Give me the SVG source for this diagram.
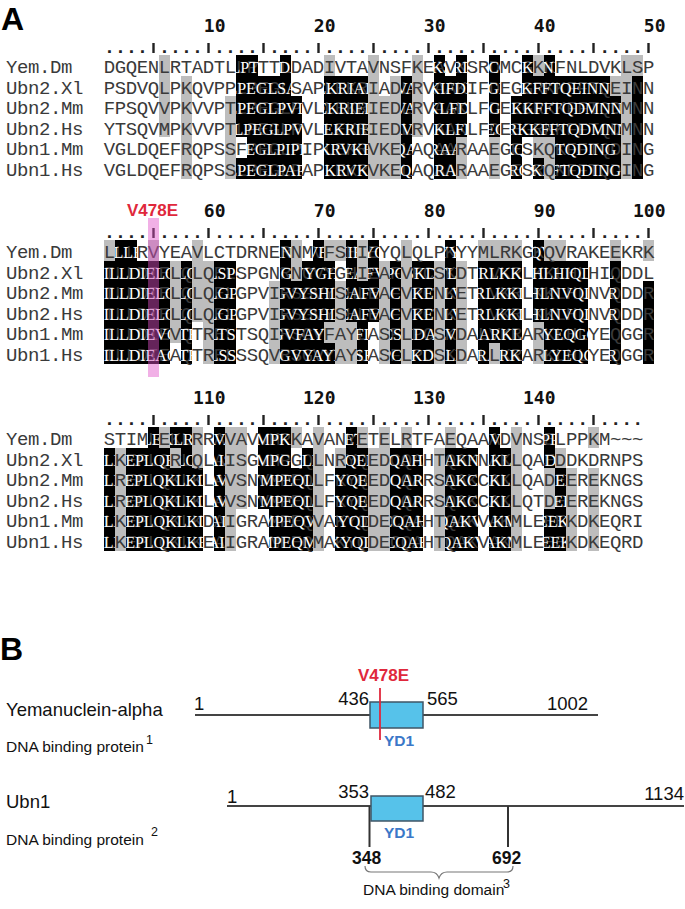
<svg xmlns="http://www.w3.org/2000/svg" xmlns:xlink="http://www.w3.org/1999/xlink" width="685" height="909" viewBox="0 0 685 909">
<style>
.seq{font-family:"Liberation Mono","Courier New",monospace;font-size:19px;letter-spacing:-0.4px}
.dk{fill:#3a3a3a}
.dots{font-family:"Liberation Mono","Courier New",monospace;font-weight:bold;font-size:19px;letter-spacing:-0.4px;fill:#222}
.num{font-family:"DejaVu Sans Mono",monospace;font-weight:bold;font-size:18px;fill:#111;text-anchor:end}
.tick{stroke:#222;stroke-width:2.4;fill:none}
.shade{shape-rendering:crispEdges}
.sans{font-family:"Liberation Sans",Arial,sans-serif}
.lbl{font-family:"Liberation Sans",Arial,sans-serif;font-size:18.5px;fill:#111}
.small{font-family:"Liberation Sans",Arial,sans-serif;font-size:15.5px;fill:#111}
.sup{font-family:"Liberation Sans",Arial,sans-serif;font-size:12.5px;fill:#111}
.prot{stroke:#444;stroke-width:2;fill:none}
.box{fill:#56c2ea;stroke:#3f5566;stroke-width:1.5}
.red{font-family:"Liberation Sans",Arial,sans-serif;font-weight:bold;font-size:17px;fill:#e0283c}
.yd{font-family:"Liberation Sans",Arial,sans-serif;font-weight:bold;font-size:15.5px;fill:#3b78c8}
</style>
<defs>
<path id="k1" transform="translate(0,55)" d="M236 0h22v20.6h-22zM280 0h11v20.6h-11zM434 0h11v20.6h-11zM456 0h11v20.6h-11zM489 0h11v20.6h-11zM522 0h11v20.6h-11zM544 0h11v20.6h-11zM236 20.6h55v20.6h-55zM324 20.6h44v20.6h-44zM401 20.6h11v20.6h-11zM434 20.6h33v20.6h-33zM489 20.6h11v20.6h-11zM522 20.6h88v20.6h-88zM632 20.6h11v20.6h-11zM236 41.2h66v41.2h-66zM324 41.2h44v41.2h-44zM401 41.2h11v41.2h-11zM434 41.2h33v41.2h-33zM489 41.2h11v41.2h-11zM511 41.2h110v41.2h-110zM632 41.2h11v41.2h-11zM247 82.4h55v20.6h-55zM324 82.4h44v20.6h-44zM401 82.4h11v20.6h-11zM434 82.4h22v20.6h-22zM511 82.4h11v20.6h-11zM555 82.4h66v20.6h-66zM632 82.4h11v20.6h-11zM236 103h66v20.6h-66zM324 103h44v20.6h-44zM401 103h11v20.6h-11zM434 103h22v20.6h-22zM511 103h11v20.6h-11zM533 103h11v20.6h-11zM555 103h66v20.6h-66zM632 103h11v20.6h-11z"/>
<path id="k2" transform="translate(0,240)" d="M115 0h22v20.6h-22zM280 0h11v20.6h-11zM313 0h11v20.6h-11zM346 0h11v20.6h-11zM368 0h11v20.6h-11zM445 0h11v20.6h-11zM533 0h11v20.6h-11zM104 20.6h66v20.6h-66zM181 20.6h11v20.6h-11zM214 20.6h22v20.6h-22zM280 20.6h11v20.6h-11zM302 20.6h33v20.6h-33zM346 20.6h11v20.6h-11zM368 20.6h11v20.6h-11zM390 20.6h11v20.6h-11zM412 20.6h22v20.6h-22zM445 20.6h11v20.6h-11zM478 20.6h44v20.6h-44zM533 20.6h55v20.6h-55zM610 20.6h11v20.6h-11zM104 41.2h66v41.2h-66zM181 41.2h11v41.2h-11zM214 41.2h22v41.2h-22zM280 41.2h55v41.2h-55zM346 41.2h33v41.2h-33zM390 41.2h11v41.2h-11zM412 41.2h22v41.2h-22zM445 41.2h11v41.2h-11zM478 41.2h44v41.2h-44zM533 41.2h55v41.2h-55zM610 41.2h11v41.2h-11zM643 41.2h11v41.2h-11zM104 82.4h66v20.6h-66zM181 82.4h11v20.6h-11zM214 82.4h22v20.6h-22zM280 82.4h44v20.6h-44zM357 82.4h11v20.6h-11zM390 82.4h11v20.6h-11zM412 82.4h22v20.6h-22zM445 82.4h11v20.6h-11zM478 82.4h44v20.6h-44zM544 82.4h44v20.6h-44zM610 82.4h11v20.6h-11zM643 82.4h11v20.6h-11zM104 103h66v20.6h-66zM181 103h11v20.6h-11zM214 103h22v20.6h-22zM280 103h55v20.6h-55zM357 103h11v20.6h-11zM390 103h11v20.6h-11zM412 103h22v20.6h-22zM445 103h11v20.6h-11zM478 103h11v20.6h-11zM500 103h22v20.6h-22zM544 103h44v20.6h-44zM610 103h11v20.6h-11zM643 103h11v20.6h-11z"/>
<path id="k3" transform="translate(0,427)" d="M148 0h11v20.6h-11zM170 0h22v20.6h-22zM214 0h11v20.6h-11zM258 0h33v20.6h-33zM346 0h11v20.6h-11zM489 0h11v20.6h-11zM544 0h11v20.6h-11zM104 20.6h11v20.6h-11zM126 20.6h44v20.6h-44zM181 20.6h11v20.6h-11zM214 20.6h11v20.6h-11zM258 20.6h33v20.6h-33zM302 20.6h11v20.6h-11zM346 20.6h22v20.6h-22zM390 20.6h33v20.6h-33zM445 20.6h33v20.6h-33zM489 20.6h22v20.6h-22zM544 20.6h11v20.6h-11zM104 41.2h11v41.2h-11zM126 41.2h77v41.2h-77zM214 41.2h11v41.2h-11zM258 41.2h55v41.2h-55zM335 41.2h33v41.2h-33zM390 41.2h33v41.2h-33zM445 41.2h33v41.2h-33zM489 41.2h22v41.2h-22zM555 41.2h11v41.2h-11zM104 82.4h11v41.2h-11zM126 82.4h77v41.2h-77zM214 82.4h11v41.2h-11zM269 82.4h44v41.2h-44zM335 82.4h33v41.2h-33zM390 82.4h33v41.2h-33zM445 82.4h33v41.2h-33zM489 82.4h22v41.2h-22zM544 82.4h22v41.2h-22z"/>
<clipPath id="kc"><use xlink:href="#k1"/><use xlink:href="#k2"/><use xlink:href="#k3"/></clipPath>
</defs>

<g id="panelA">
<text class="sans" x="1" y="30" font-size="32" font-weight="bold" fill="#000">A</text>

<g id="shading" class="shade">
<path fill="#bdbdbd" transform="translate(0,55)" d="M159 0h11v20.6h-11zM324 0h11v20.6h-11zM368 0h11v20.6h-11zM412 0h11v20.6h-11zM533 0h11v20.6h-11zM621 0h22v20.6h-22zM159 20.6h11v20.6h-11zM181 20.6h11v20.6h-11zM368 20.6h11v20.6h-11zM390 20.6h11v20.6h-11zM412 20.6h11v20.6h-11zM610 20.6h22v20.6h-22zM159 41.2h11v41.2h-11zM181 41.2h11v41.2h-11zM225 41.2h11v41.2h-11zM368 41.2h33v41.2h-33zM412 41.2h11v41.2h-11zM621 41.2h11v41.2h-11zM181 82.4h11v20.6h-11zM225 82.4h11v20.6h-11zM368 82.4h33v20.6h-33zM456 82.4h11v20.6h-11zM489 82.4h11v20.6h-11zM533 82.4h22v20.6h-22zM621 82.4h11v20.6h-11zM181 103h11v20.6h-11zM225 103h11v20.6h-11zM368 103h33v20.6h-33zM456 103h11v20.6h-11zM489 103h11v20.6h-11zM544 103h11v20.6h-11zM621 103h11v20.6h-11z"/>
<path fill="#bdbdbd" transform="translate(0,240)" d="M104 0h11v20.6h-11zM148 0h11v20.6h-11zM192 0h11v20.6h-11zM291 0h11v20.6h-11zM324 0h22v20.6h-22zM357 0h11v20.6h-11zM401 0h11v20.6h-11zM478 0h44v20.6h-44zM544 0h22v20.6h-22zM610 0h11v20.6h-11zM643 0h11v20.6h-11zM170 20.6h11v20.6h-11zM192 20.6h22v20.6h-22zM291 20.6h11v20.6h-11zM357 20.6h11v20.6h-11zM379 20.6h11v20.6h-11zM401 20.6h11v20.6h-11zM434 20.6h11v20.6h-11zM456 20.6h11v20.6h-11zM170 41.2h11v41.2h-11zM192 41.2h22v41.2h-22zM269 41.2h11v41.2h-11zM335 41.2h11v41.2h-11zM379 41.2h11v41.2h-11zM401 41.2h11v41.2h-11zM434 41.2h11v41.2h-11zM456 41.2h11v41.2h-11zM170 82.4h11v20.6h-11zM203 82.4h11v20.6h-11zM269 82.4h11v20.6h-11zM324 82.4h33v20.6h-33zM379 82.4h11v20.6h-11zM401 82.4h11v20.6h-11zM434 82.4h11v20.6h-11zM456 82.4h11v20.6h-11zM533 82.4h11v20.6h-11zM203 103h11v20.6h-11zM269 103h11v20.6h-11zM335 103h22v20.6h-22zM379 103h11v20.6h-11zM401 103h11v20.6h-11zM434 103h11v20.6h-11zM456 103h11v20.6h-11zM489 103h11v20.6h-11zM533 103h11v20.6h-11z"/>
<path fill="#bdbdbd" transform="translate(0,427)" d="M159 0h11v20.6h-11zM192 0h11v20.6h-11zM225 0h22v20.6h-22zM291 0h11v20.6h-11zM313 0h11v20.6h-11zM357 0h11v20.6h-11zM379 0h11v20.6h-11zM401 0h11v20.6h-11zM445 0h11v20.6h-11zM511 0h11v20.6h-11zM588 0h11v20.6h-11zM115 20.6h11v20.6h-11zM170 20.6h11v20.6h-11zM192 20.6h11v20.6h-11zM225 20.6h22v20.6h-22zM313 20.6h11v20.6h-11zM335 20.6h11v20.6h-11zM368 20.6h22v20.6h-22zM434 20.6h11v20.6h-11zM511 20.6h11v20.6h-11zM555 20.6h11v20.6h-11zM115 41.2h11v41.2h-11zM225 41.2h22v41.2h-22zM313 41.2h11v41.2h-11zM368 41.2h22v41.2h-22zM434 41.2h11v41.2h-11zM511 41.2h11v41.2h-11zM544 41.2h11v41.2h-11zM566 41.2h11v41.2h-11zM588 41.2h11v41.2h-11zM115 82.4h11v41.2h-11zM225 82.4h11v41.2h-11zM313 82.4h11v41.2h-11zM368 82.4h22v41.2h-22zM434 82.4h11v41.2h-11zM511 82.4h11v41.2h-11zM566 82.4h11v41.2h-11zM588 82.4h11v41.2h-11z"/>
<use xlink:href="#k1" fill="#000"/>
<use xlink:href="#k2" fill="#000"/>
<use xlink:href="#k3" fill="#000"/>
</g>

<g id="names" class="seq dk">
<text x="6" y="73">Yem.Dm</text><text x="6" y="93.6">Ubn2.Xl</text><text x="6" y="114.2">Ubn2.Mm</text><text x="6" y="134.8">Ubn2.Hs</text><text x="6" y="155.4">Ubn1.Mm</text><text x="6" y="176">Ubn1.Hs</text>
<text x="6" y="258">Yem.Dm</text><text x="6" y="278.6">Ubn2.Xl</text><text x="6" y="299.2">Ubn2.Mm</text><text x="6" y="319.8">Ubn2.Hs</text><text x="6" y="340.4">Ubn1.Mm</text><text x="6" y="361">Ubn1.Hs</text>
<text x="6" y="445">Yem.Dm</text><text x="6" y="465.6">Ubn2.Xl</text><text x="6" y="486.2">Ubn2.Mm</text><text x="6" y="506.8">Ubn2.Hs</text><text x="6" y="527.4">Ubn1.Mm</text><text x="6" y="548">Ubn1.Hs</text>
</g>

<g id="sequences" class="seq" fill="#3a3a3a">
<text id="s1" x="103.8" y="73">DGQENLRTADTLLPTTLDADIVTAVNSFKEAVKSRDMCGKKFNLDVKLSP</text>
<text id="s2" x="103.8" y="93.6">PSDVQLPKQVPPLPEGLSAPLEKRIADLRVAAKIFDEGGRKKFFTQEINN</text>
<text id="s3" x="103.8" y="114.2">FPSQVVPKVVPTLPEGLPVLLEKRIEDLRVAAKLFDEEGRKKFFTQDMNN</text>
<text id="s4" x="103.8" y="134.8">YTSQVMPKVVPTLPEGLPVLLEKRIEDLRVAAKLFDEEGRKKFFTQDMNN</text>
<text id="s5" x="103.8" y="155.4">VGLDQEFRQPSSFPEGLPIPLEKRVKELAQAARAAEGESKQKFFTQDING</text>
<text id="s6" x="103.8" y="176">VGLDQEFRQPSSLPEGLPAPLEKRVKELAQAARAAEGESRQKFFTQDING</text>
<text id="s7" x="103.8" y="258">LLLRVYEAVLCTDRNERNMVFSHIEYQLQLPKYYMLRKGKQVRAKEEKRK</text>
<text id="s8" x="103.8" y="278.6">ILLDIELQLQELSPGNRNGVYGHIEAFVPCSKDTLVKRLKKLHLHIQDDL</text>
<text id="s9" x="103.8" y="299.2">ILLDIELQLQELGPVIRSGVYSHLEAFVPCNKETLVKRLKKLHLNVQDDR</text>
<text id="s10" x="103.8" y="319.8">ILLDIELQLQELGPVIRSGVYSHLEAFVPCNKETLVKRLKKLHLNVQDDR</text>
<text id="s11" x="103.8" y="340.4">ILLDIEVQTRELTSQIRSGVFAYLASFLPCSKDALVKRARKLHLYEQGGR</text>
<text id="s12" x="103.8" y="361">ILLDIEAQTRELSSQVRSGVYAYLASFLPCSKDALLKRARKLHLYEQGGR</text>
<text id="s13" x="103.8" y="445">STIMLEKLRRAVAVVMPKAVANYETELRTFAEQAAADVNSELPPKM~~~</text>
<text id="s14" x="103.8" y="465.6">LKEPLQRLQLAISGVMPGQLNRYQEDCQAHTQAKNAKLQAEDDKDRNPS</text>
<text id="s15" x="103.8" y="486.2">LREPLQKLKLAVSNVMPEQLFKYQEDCQARSQAKCAKLQADEEREKNGS</text>
<text id="s16" x="103.8" y="506.8">LREPLQKLKLAVSNVMPEQLFKYQEDCQARSQAKCAKLQTDEEREKNGS</text>
<text id="s17" x="103.8" y="527.4">LKEPLQKLKDAIGRAMPEQVAKYQDECQAHTQAKVAKMLEEEKDKEQRI</text>
<text id="s18" x="103.8" y="548">LKEPLQKLKEAIGRAMPEQMAKYQDECQAHTQAKVAKMLEEEKDKEQRD</text>
</g>
<g id="sequences-on-black" clip-path="url(#kc)" fill="#fff">
<use xlink:href="#s1"/><use xlink:href="#s2"/><use xlink:href="#s3"/><use xlink:href="#s4"/><use xlink:href="#s5"/><use xlink:href="#s6"/>
<use xlink:href="#s7"/><use xlink:href="#s8"/><use xlink:href="#s9"/><use xlink:href="#s10"/><use xlink:href="#s11"/><use xlink:href="#s12"/>
<use xlink:href="#s13"/><use xlink:href="#s14"/><use xlink:href="#s15"/><use xlink:href="#s16"/><use xlink:href="#s17"/><use xlink:href="#s18"/>
</g>

<g id="rulers">
<text class="dots" x="103.8" y="53">.... .... .... .... .... .... .... .... .... ....</text>
<text class="dots" x="103.8" y="238">.... .... .... .... .... .... .... .... .... ....</text>
<text class="dots" x="103.8" y="425">.... .... .... .... .... .... .... .... .... ....</text>
<path class="tick" d="M153.5 43v10M208.5 43v10M263.5 43v10M318.5 43v10M373.5 43v10M428.5 43v10M483.5 43v10M538.5 43v10M593.5 43v10M648.5 43v10"/>
<path class="tick" d="M153.5 228v10M208.5 228v10M263.5 228v10M318.5 228v10M373.5 228v10M428.5 228v10M483.5 228v10M538.5 228v10M593.5 228v10M648.5 228v10"/>
<path class="tick" d="M153.5 415v10M208.5 415v10M263.5 415v10M318.5 415v10M373.5 415v10M428.5 415v10M483.5 415v10M538.5 415v10M593.5 415v10"/>
<text class="num" x="225.5" y="32">10</text><text class="num" x="335.5" y="32">20</text><text class="num" x="445.5" y="32">30</text><text class="num" x="555.5" y="32">40</text><text class="num" x="665.5" y="32">50</text>
<text class="num" x="225.5" y="217">60</text><text class="num" x="335.5" y="217">70</text><text class="num" x="445.5" y="217">80</text><text class="num" x="555.5" y="217">90</text><text class="num" x="665.5" y="217">100</text>
<text class="num" x="225.5" y="404">110</text><text class="num" x="335.5" y="404">120</text><text class="num" x="445.5" y="404">130</text><text class="num" x="555.5" y="404">140</text>
</g>

<g id="mutation-highlight">
<rect x="148" y="218" width="11" height="159" fill="#e050c8" fill-opacity="0.45"/>
<text class="red" x="127" y="216">V478E</text>
</g>
</g>

<g id="panelB">
<text class="sans" x="0" y="660" font-size="32" font-weight="bold" fill="#000">B</text>

<g id="yemanuclein">
<text class="lbl" x="6" y="716">Yemanuclein-alpha</text>
<text class="small" x="6" y="752">DNA binding protein</text>
<text class="sup" x="146" y="744">1</text>
<line class="prot" x1="195" y1="715" x2="598" y2="715"/>
<text class="lbl" x="194" y="710">1</text>
<text class="lbl" x="369" y="705" text-anchor="end">436</text>
<text class="lbl" x="427" y="705">565</text>
<text class="lbl" x="547" y="710">1002</text>
<rect class="box" x="370" y="702" width="53" height="26"/>
<line x1="380" y1="688" x2="380" y2="740" stroke="#e0283c" stroke-width="1.8"/>
<text class="red" x="358" y="681">V478E</text>
<text class="yd" x="384" y="746">YD1</text>
</g>

<g id="ubn1">
<text class="lbl" x="6" y="808">Ubn1</text>
<text class="small" x="6" y="845">DNA binding protein</text>
<text class="sup" x="151" y="836">2</text>
<line class="prot" x1="227" y1="806" x2="684" y2="806"/>
<text class="lbl" x="227" y="803">1</text>
<text class="lbl" x="369" y="798" text-anchor="end">353</text>
<text class="lbl" x="425" y="798">482</text>
<text class="lbl" x="684" y="800" text-anchor="end">1134</text>
<line x1="369.5" y1="806" x2="369.5" y2="847" stroke="#333" stroke-width="2"/>
<line x1="508" y1="806" x2="508" y2="847" stroke="#333" stroke-width="2"/>
<rect class="box" x="371" y="796" width="52" height="25"/>
<text class="yd" x="384" y="838">YD1</text>
<text class="sans" x="352" y="864" font-size="17.5" font-weight="bold" fill="#111">348</text>
<text class="sans" x="492" y="864" font-size="17.5" font-weight="bold" fill="#111">692</text>
<path d="M365 866q0 6 6 6h60q6 0 8 6q2 -6 8 -6h60q6 0 6 -6" fill="none" stroke="#777" stroke-width="1.2"/>
<text class="small" x="363" y="895">DNA binding domain</text>
<text class="sup" x="503" y="888">3</text>
</g>
</g>
</svg>
